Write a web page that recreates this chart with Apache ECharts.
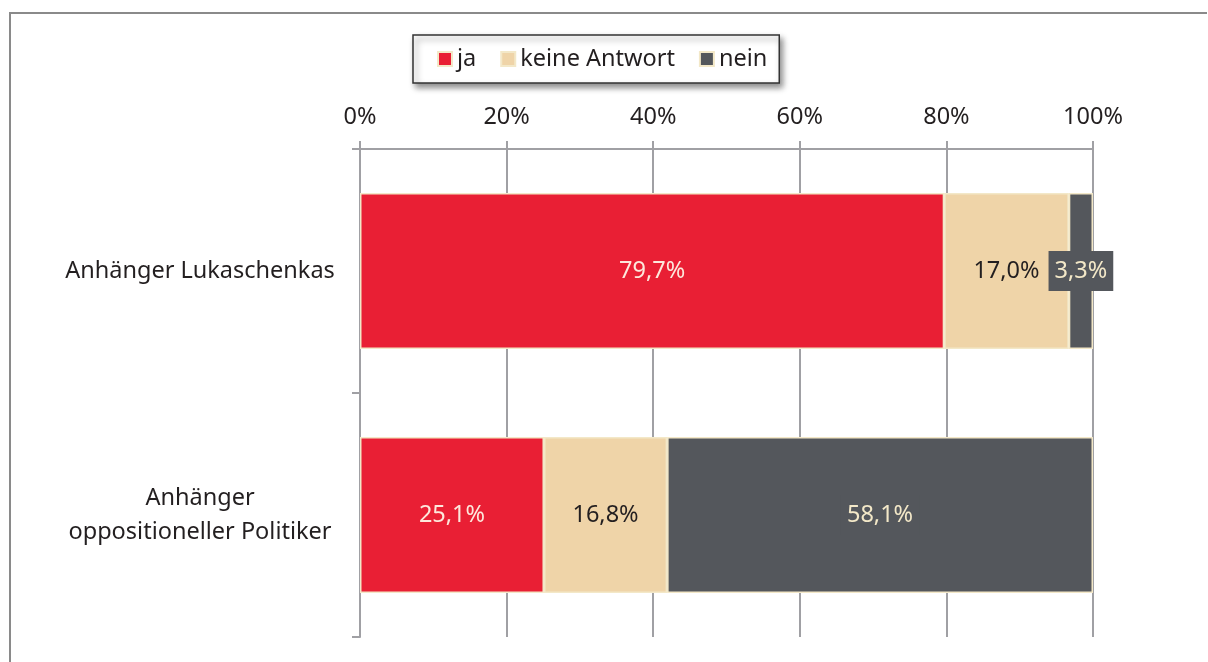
<!DOCTYPE html>
<html><head><meta charset="utf-8">
<script src="https://cdn.jsdelivr.net/npm/echarts@6/dist/echarts.min.js"></script>
<style>html,body{margin:0;padding:0;background:#fff}#c{width:1208px;height:662px}</style>
</head><body><div id="c"></div>
<script>
const categories = ['Anhänger Lukaschenkas', 'Anhänger\noppositioneller Politiker'];
const seriesNames = ['ja', 'keine Antwort', 'nein'];
const jaValues = [79.7, 25.1];
const keineValues = [17.0, 16.8];
const neinValues = [3.3, 58.1];
const tickLabels = ['0%', '20%', '40%', '60%', '80%', '100%'];

const FONT = 'Noto Sans';
const FS = 23.5;
const fmt = p => p.value.toFixed(1).replace('.', ',') + '%';
const border = '#f3e8c8';
const chart = echarts.init(document.getElementById('c'), null, {renderer: 'canvas'});
chart.setOption({
  animation: false,
  textStyle: {fontFamily: FONT},
  graphic: [
    {type: 'line', shape: {x1: 9, y1: 13, x2: 1207, y2: 13}, style: {stroke: '#8a8a8a', lineWidth: 2}},
    {type: 'line', shape: {x1: 10, y1: 13, x2: 10, y2: 662}, style: {stroke: '#8a8a8a', lineWidth: 2}}
  ],
  legend: {
    data: seriesNames,
    top: 35, left: 413,
    padding: [12, 12, 12, 24],
    backgroundColor: '#fff',
    borderColor: '#333',
    borderWidth: 1.5,
    shadowBlur: 6, shadowColor: 'rgba(0,0,0,0.45)', shadowOffsetX: 3, shadowOffsetY: 4,
    itemWidth: 14, itemHeight: 14, itemGap: 24,
    icon: 'rect',
    textStyle: {fontSize: FS, color: '#231f20', fontFamily: FONT}
  },
  grid: {left: 360, right: 115, top: 149, bottom: 25},
  xAxis: {
    type: 'value', position: 'top', min: 0, max: 100, interval: 20,
    axisLine: {show: true, lineStyle: {color: '#a0a0a4', width: 2}},
    axisTick: {show: true, length: 8, lineStyle: {color: '#a0a0a4', width: 2}},
    splitLine: {show: true, lineStyle: {color: '#a0a0a4', width: 2}},
    axisLabel: {
      formatter: v => tickLabels[Math.round(v / 20)],
      fontSize: FS, color: '#231f20', margin: 20, fontFamily: FONT
    }
  },
  yAxis: {
    type: 'category', data: categories, inverse: true,
    axisLine: {show: true, lineStyle: {color: '#a0a0a4', width: 2}},
    axisTick: {show: true, length: 8, lineStyle: {color: '#a0a0a4', width: 2}},
    axisLabel: {fontSize: FS, color: '#231f20', align: 'center', margin: 160, lineHeight: 34, fontFamily: FONT}
  },
  series: [
    {name: 'ja', type: 'bar', stack: 't', data: jaValues, barCategoryGap: '36%',
     itemStyle: {color: '#e91f34', borderColor: border, borderWidth: 1.5},
     label: {show: true, position: 'inside', formatter: fmt, fontSize: FS, color: '#fde8dc', fontFamily: FONT}},
    {name: 'keine Antwort', type: 'bar', stack: 't', data: keineValues,
     itemStyle: {color: '#efd4a8', borderColor: border, borderWidth: 1.5},
     label: {show: true, position: 'inside', formatter: fmt, fontSize: FS, color: '#231f20', fontFamily: FONT}},
    {name: 'nein', type: 'bar', stack: 't', data: neinValues,
     itemStyle: {color: '#54575c', borderColor: border, borderWidth: 1.5},
     label: {show: true, position: 'inside', formatter: fmt, fontSize: FS, color: '#f3e8c8', fontFamily: FONT,
             backgroundColor: '#54575c', padding: [8, 6, 8, 6]}}
  ]
});
</script></body></html>
